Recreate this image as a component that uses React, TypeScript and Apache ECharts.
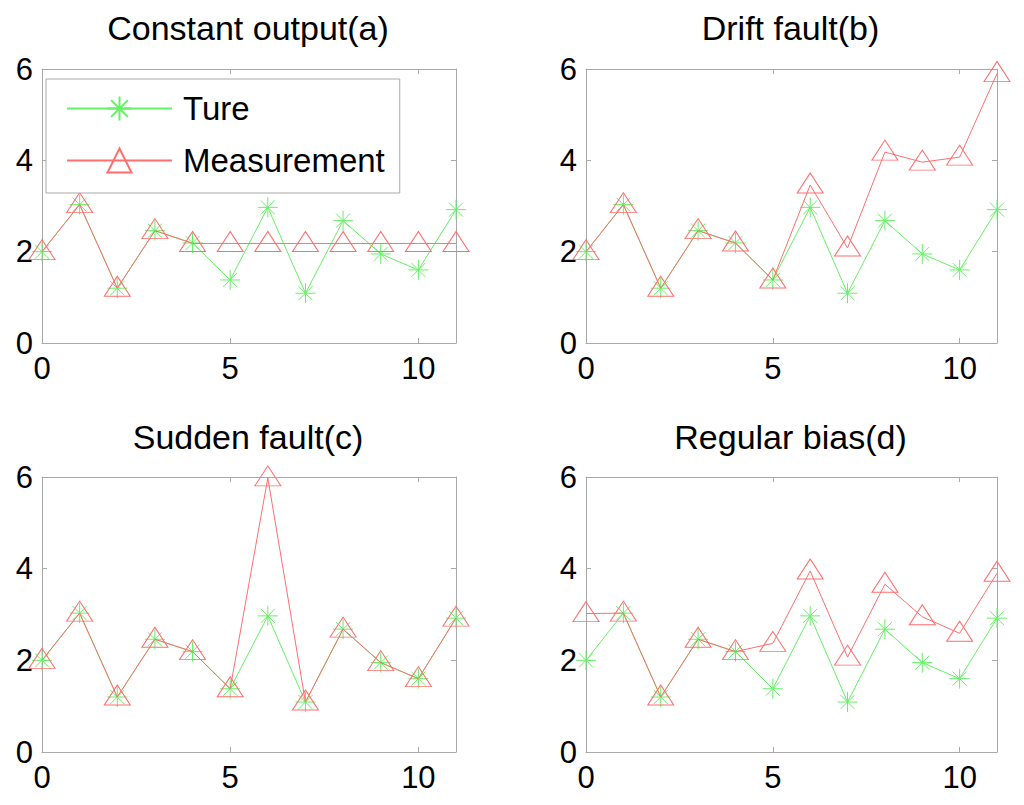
import React, { useEffect, useRef } from 'react';
import * as echarts from 'echarts';

const xValues = [0, 1, 2, 3, 4, 5, 6, 7, 8, 9, 10, 11];
const trueValues = [2.0, 3.03, 1.2, 2.46, 2.19, 1.38, 2.97, 1.09, 2.68, 1.95, 1.6, 2.92];
const constantMeasurement = [2.0, 3.03, 1.2, 2.46, 2.18, 2.18, 2.18, 2.18, 2.18, 2.18, 2.18, 2.18];
const driftMeasurement = [2.0, 3.03, 1.2, 2.46, 2.19, 1.38, 3.46, 2.08, 4.18, 3.96, 4.07, 5.9];
const suddenMeasurement = [2.0, 3.03, 1.2, 2.46, 2.19, 1.38, 5.98, 1.09, 2.68, 1.95, 1.6, 2.92];
const biasMeasurement = [3.02, 3.03, 1.2, 2.46, 2.19, 2.37, 3.95, 2.07, 3.66, 2.95, 2.59, 3.9];
const titles = ['Constant output(a)', 'Drift fault(b)', 'Sudden fault(c)', 'Regular bias(d)'];
const measurements = [constantMeasurement, driftMeasurement, suddenMeasurement, biasMeasurement];
const legendNames = ['Ture', 'Measurement'];

const FONT = '"Liberation Sans", Arial, sans-serif';
const RED = '#ff6e6e';
const GREEN = '#66f066';
const AXIS = '#a9a9a9';
const STAR = 'path://M0,-10L0,10M-10,0L10,0M-7,-7L7,7M-7,7L7,-7';

const grids = [
  { left: 42, top: 69, width: 414, height: 274 },
  { left: 586, top: 69, width: 411, height: 274 },
  { left: 42, top: 477, width: 414, height: 275 },
  { left: 586, top: 477, width: 411, height: 275 },
];

export default function App() {
  const ref = useRef<HTMLDivElement>(null);
  useEffect(() => {
    if (!ref.current) return;
    const chart = echarts.init(ref.current, undefined, { renderer: 'svg' });
    const xAxis: any[] = [];
    const yAxis: any[] = [];
    const series: any[] = [];
    const title: any[] = [];
    const lineCommon = { show: true, onZero: false, lineStyle: { color: AXIS, width: 1 } };
    const tickCommon = { show: true, inside: true, length: 5, lineStyle: { color: AXIS, width: 1 } };
    grids.forEach((g, i) => {
      ['bottom', 'top'].forEach((pos) => {
        xAxis.push({
          type: 'value', gridIndex: i, position: pos, min: 0, max: 11, interval: 5,
          axisLine: lineCommon, axisTick: tickCommon, splitLine: { show: false },
          axisLabel: {
            show: pos === 'bottom', showMaxLabel: false, fontSize: 31, fontFamily: FONT,
            color: '#000', margin: 10,
          },
        });
      });
      ['left', 'right'].forEach((pos) => {
        yAxis.push({
          type: 'value', gridIndex: i, position: pos, min: 0, max: 6, interval: 2,
          axisLine: lineCommon, axisTick: tickCommon, splitLine: { show: false },
          axisLabel: {
            show: pos === 'left', fontSize: 31, fontFamily: FONT, color: '#000', margin: 9,
          },
        });
      });
      title.push({
        text: titles[i], left: g.left + g.width / 2 - 1, top: i < 2 ? 11 : 420, textAlign: 'center', padding: 0,
        textStyle: { fontSize: 34, fontWeight: 'normal', fontFamily: FONT, color: '#000' },
      });
      series.push({
        type: 'line', name: legendNames[0], xAxisIndex: 2 * i, yAxisIndex: 2 * i,
        data: xValues.map((x, k) => [x, trueValues[k]]),
        symbol: STAR, symbolSize: 20, showAllSymbol: true,
        lineStyle: { color: GREEN, width: 1 },
        itemStyle: { color: 'none', borderColor: GREEN, borderWidth: 1 },
        emphasis: { disabled: true }, z: 2,
      });
      series.push({
        type: 'line', name: legendNames[1], xAxisIndex: 2 * i, yAxisIndex: 2 * i,
        data: xValues.map((x, k) => [x, measurements[i][k]]),
        symbol: 'triangle', symbolSize: [26, 20], symbolOffset: [0, -2], showAllSymbol: true,
        lineStyle: { color: RED, width: 1 },
        itemStyle: { color: 'none', borderColor: RED, borderWidth: 1 },
        emphasis: { disabled: true }, z: 3,
      });
    });
    chart.setOption({
      animation: false,
      backgroundColor: '#fff',
      grid: grids,
      title,
      xAxis,
      yAxis,
      series,
      legend: {
        data: legendNames, orient: 'vertical', left: 46, top: 79,
        padding: [13, 15, 16, 20], itemGap: 19, itemWidth: 105, itemHeight: 30,
        borderColor: AXIS, borderWidth: 1, backgroundColor: '#fff',
        textStyle: { fontSize: 33, fontFamily: FONT, color: '#000', padding: [0, 0, 0, 6] },
        selectedMode: false,
      },
    });
    return () => chart.dispose();
  }, []);
  return <div ref={ref} style={{ position: 'absolute', left: 0, top: 0, width: 1024, height: 805 }} />;
}
